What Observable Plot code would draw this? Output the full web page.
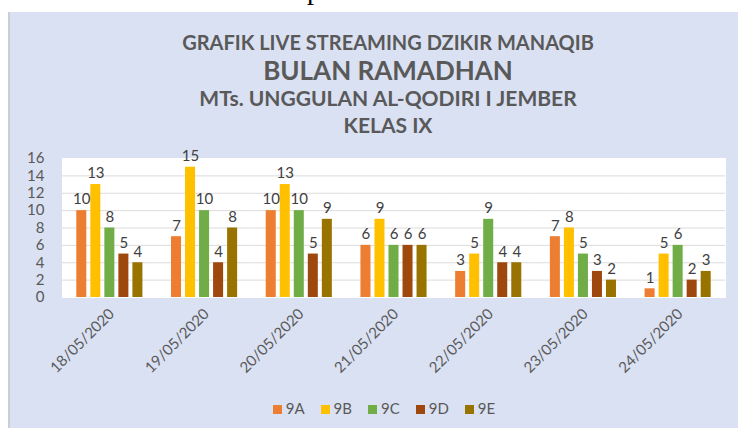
<!DOCTYPE html>
<html>
<head>
<meta charset="utf-8">
<script src="https://cdn.jsdelivr.net/npm/d3@7"></script>
<script src="https://cdn.jsdelivr.net/npm/@observablehq/plot@0.6"></script>
<style>
  html, body { margin: 0; padding: 0; background: #fff; }
  #page { position: relative; width: 738px; height: 434px; overflow: hidden; background: #fff; font-family: Lato, "Open Sans", sans-serif; }
  #frag { position: absolute; left: 307px; top: -24px; font-family: "Liberation Serif", serif; font-size: 28px; line-height: 1; color: #000; }
  #panel { position: absolute; left: 10px; top: 12px; width: 728px; height: 416px; background: #dae1f2; box-shadow: -2px 0 0 #c9ced8; }
  .t { position: absolute; left: 14px; width: 728px; text-align: center; font-weight: bold; color: #595959; line-height: 26px; white-space: nowrap; }
  #chart { position: absolute; left: 0; top: 128px; }
  #legend { position: absolute; left: 10px; width: 728px; top: 387px; display: flex; justify-content: center; gap: 16px; font-size: 15px; color: #595959; line-height: 18px; }
  #legend span.sw { display: inline-block; width: 9px; height: 9px; margin-right: 4px; }
</style>
</head>
<body>
<div id="page">
  <div id="frag">p</div>
  <div id="panel">
    <div class="t" style="top:17px;font-size:20px;">GRAFIK LIVE STREAMING DZIKIR MANAQIB</div>
    <div class="t" style="top:45px;font-size:26px;">BULAN RAMADHAN</div>
    <div class="t" style="top:73px;font-size:21px;">MTs. UNGGULAN AL-QODIRI I JEMBER</div>
    <div class="t" style="top:100px;font-size:21px;">KELAS IX</div>
    <div id="chart"></div>
    <div id="legend"></div>
  </div>
</div>
<script>
const dates = ["18/05/2020","19/05/2020","20/05/2020","21/05/2020","22/05/2020","23/05/2020","24/05/2020"];
const classes = ["9A","9B","9C","9D","9E"];
const v9A = [10, 7, 10, 6, 3, 7, 1];
const v9B = [13, 15, 13, 9, 5, 8, 5];
const v9C = [8, 10, 10, 6, 9, 5, 6];
const v9D = [5, 4, 5, 6, 4, 3, 2];
const v9E = [4, 8, 9, 6, 4, 2, 3];
const colors = ["#ED7D31", "#FFC000", "#70AD47", "#9E480E", "#997300"];
const yTicks = [0, 2, 4, 6, 8, 10, 12, 14, 16];

const series = [v9A, v9B, v9C, v9D, v9E];
const rows = [];
dates.forEach((d, i) => classes.forEach((c, j) => rows.push({date: d, cls: c, value: series[j][i]})));

const chart = Plot.plot({
  width: 728,
  height: 250,
  marginLeft: 52,
  marginRight: 13,
  marginTop: 18,
  marginBottom: 93,
  style: {background: "transparent", fontFamily: "Lato, sans-serif", color: "#595959", overflow: "visible"},
  fx: {domain: dates, paddingInner: 0, paddingOuter: 0, round: false, label: null},
  x: {domain: classes, paddingInner: 0.286, paddingOuter: 1.02, round: false, axis: null},
  y: {domain: [0, 16], label: null},
  color: {domain: classes, range: colors},
  marks: [
    Plot.frame({fill: "white", stroke: "white", strokeWidth: 1}),
    Plot.gridY(yTicks.filter(d => d > 0 && d < 16), {stroke: "#dcdcdc", strokeOpacity: 1}),
    Plot.barY(rows, {fx: "date", x: "cls", y: "value", fill: "cls"}),
    Plot.text(rows, {fx: "date", x: "cls", y: "value", text: "value", dy: -11, fontSize: 15, fill: "#404040"}),
    Plot.axisY(yTicks, {tickSize: 0, tickPadding: 18, fontSize: 15, fill: "#595959", label: null}),
    Plot.axisFx({anchor: "bottom", tickRotate: -45, tickSize: 0, tickPadding: 14, dx: 2, fontSize: 15, fill: "#595959", label: null})
  ]
});
document.getElementById("chart").appendChild(chart);

const legend = document.getElementById("legend");
classes.forEach((c, j) => {
  const item = document.createElement("div");
  item.innerHTML = `<span class="sw" style="background:${colors[j]}"></span>${c}`;
  legend.appendChild(item);
});
</script>
</body>
</html>
